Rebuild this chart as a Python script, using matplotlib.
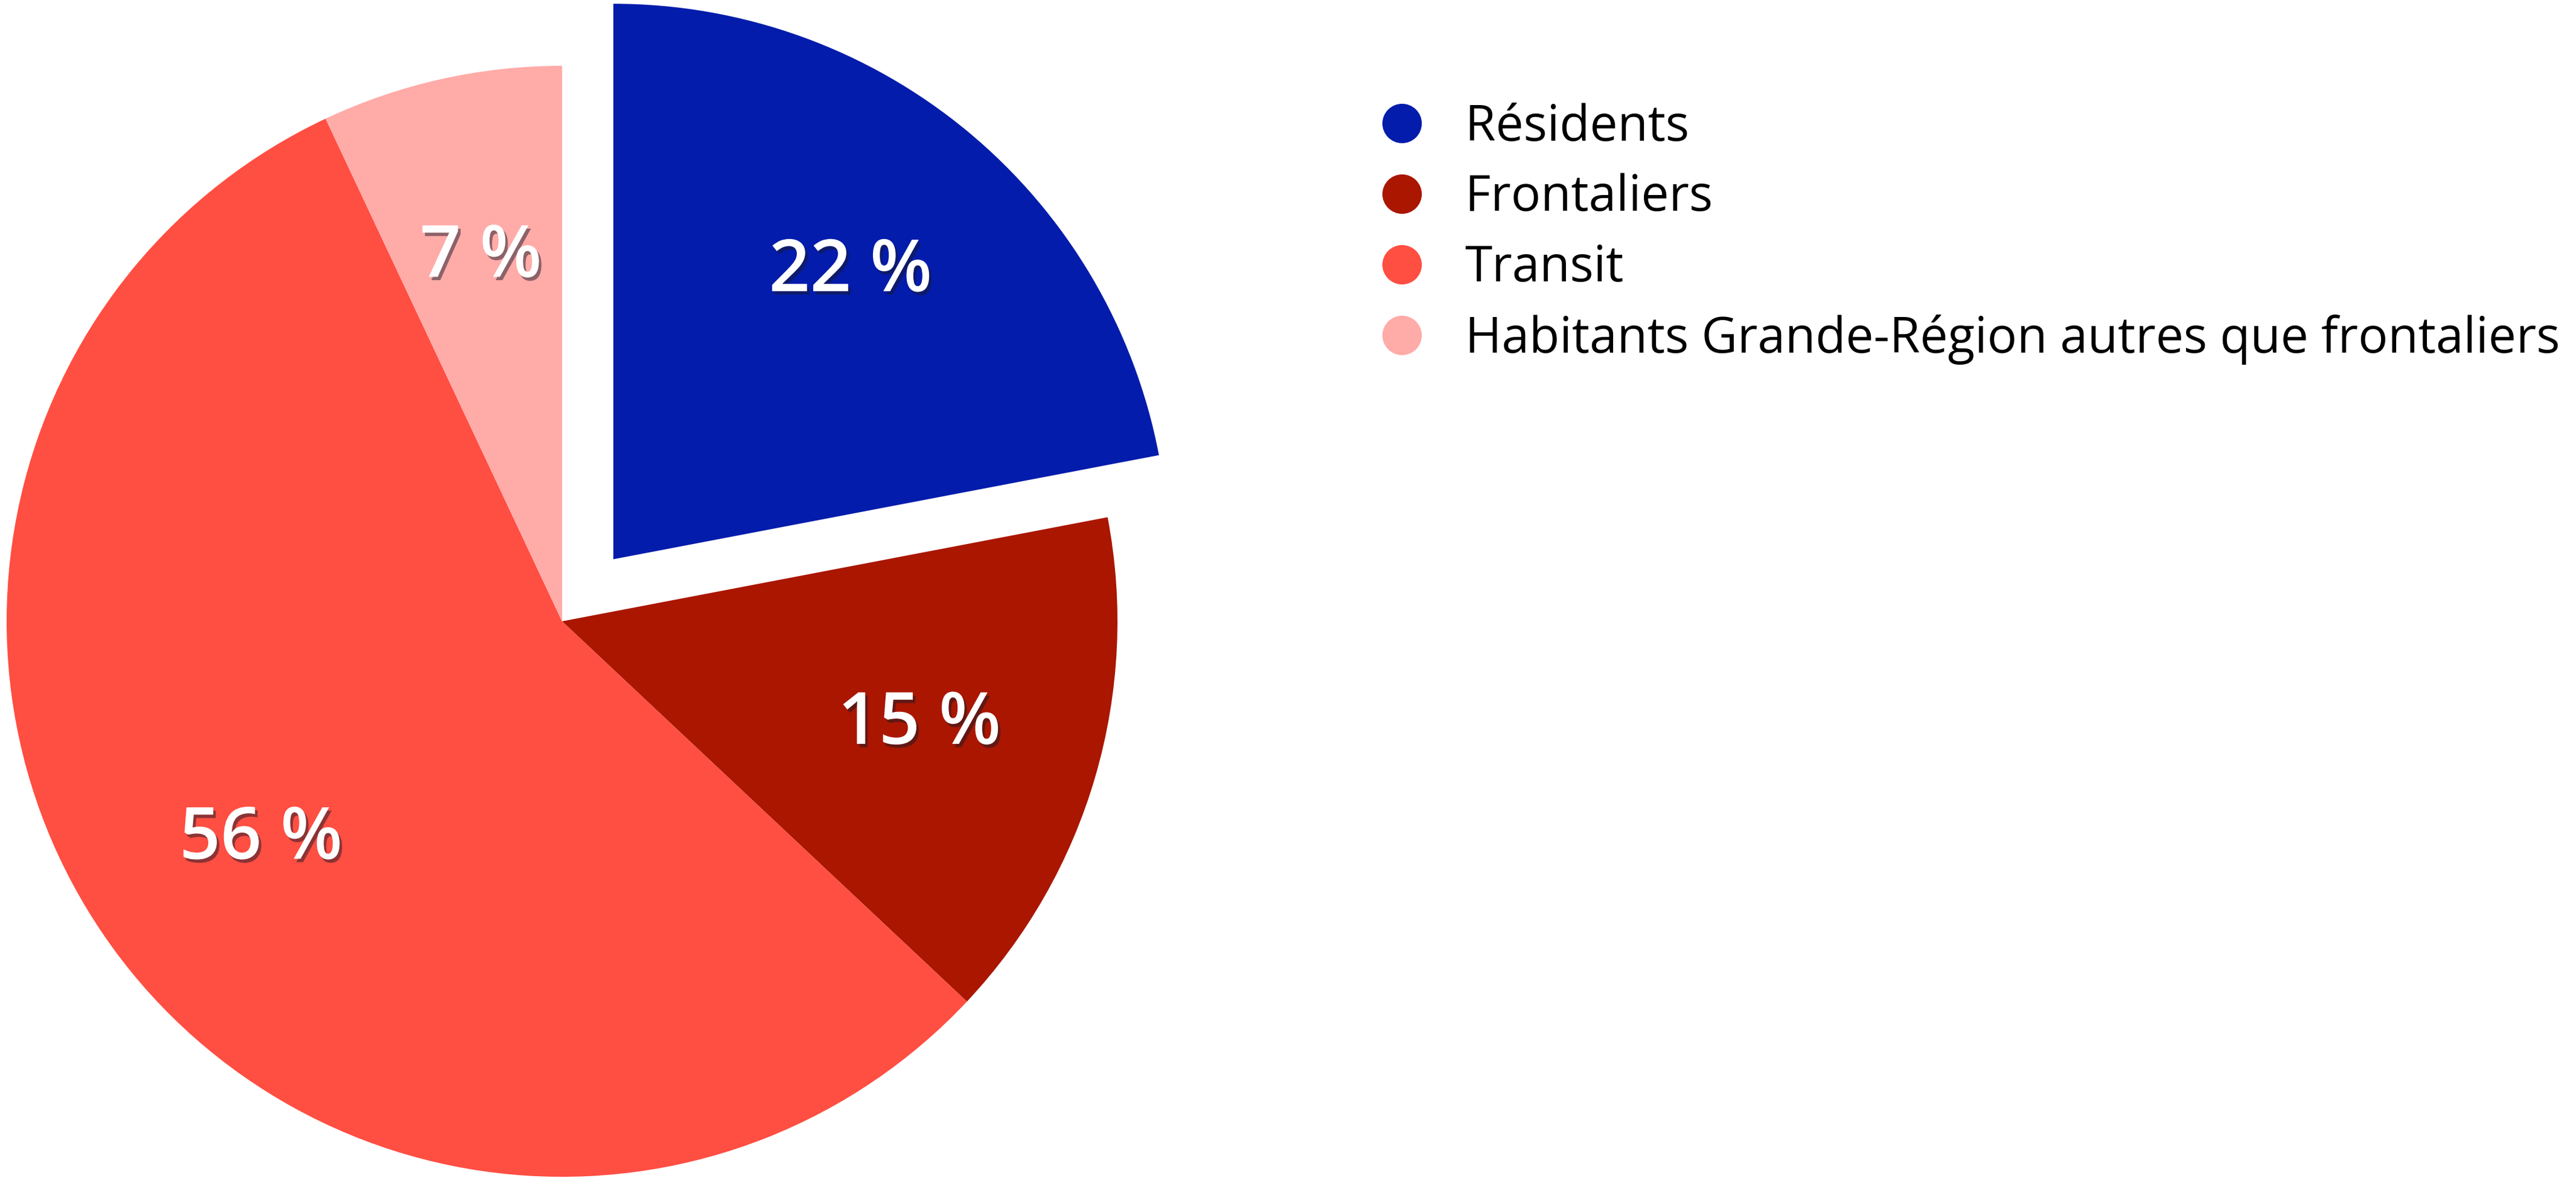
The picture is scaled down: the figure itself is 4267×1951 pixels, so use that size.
import matplotlib
matplotlib.use("Agg")
import matplotlib.pyplot as plt
import matplotlib.patheffects as pe
from matplotlib.lines import Line2D

categories = ["Résidents", "Frontaliers", "Transit",
              "Habitants Grande-Région autres que frontaliers"]
shares = [22, 15, 56, 7]
colors = ["#031cab", "#aa1600", "#ff4e42", "#ffaba8"]
explode = [0.145, 0, 0, 0]

plt.rcParams["font.family"] = ["Open Sans", "DejaVu Sans"]

W, H = 4267, 1951
fig = plt.figure(figsize=(W / 100, H / 100), dpi=100, facecolor="white")
ax = fig.add_axes([0, 0, 1, 1])

wedges, texts, autotexts = ax.pie(
    shares,
    colors=colors,
    explode=explode,
    startangle=90,
    counterclock=False,
    autopct=lambda p: f"{p:.0f} %",
    pctdistance=0.67,
    radius=1,
    wedgeprops=dict(linewidth=0),
    textprops=dict(color="white", fontsize=86, fontweight="semibold"),
)
for t in autotexts:
    t.set_path_effects([
        pe.SimplePatchShadow(offset=(3, -4), shadow_rgbFace="#1a1a2a", alpha=0.5),
        pe.Normal(),
    ])

# pie centre in pixels and radius, converted to axis units (radius = 1);
# pie() resets the limits, so set them afterwards
cx, cy, r = 931, 1029, 920
ax.set_xlim(-cx / r, (W - cx) / r)
ax.set_ylim(-(H - cy) / r, cy / r)
ax.set_aspect("equal")
ax.axis("off")

handles = [
    Line2D([], [], marker="o", linestyle="none", markersize=47,
           markerfacecolor=c, markeredgewidth=0)
    for c in colors
]
fig.legend(
    handles, categories,
    loc="upper left",
    bbox_to_anchor=(2289 / W, 1 - 170 / H),
    frameon=False,
    fontsize=59,
    handlelength=0.8,
    handletextpad=0.88,
    labelspacing=0.42,
    borderpad=0,
    borderaxespad=0,
)

fig.savefig("out.png", dpi=100, facecolor="white")
